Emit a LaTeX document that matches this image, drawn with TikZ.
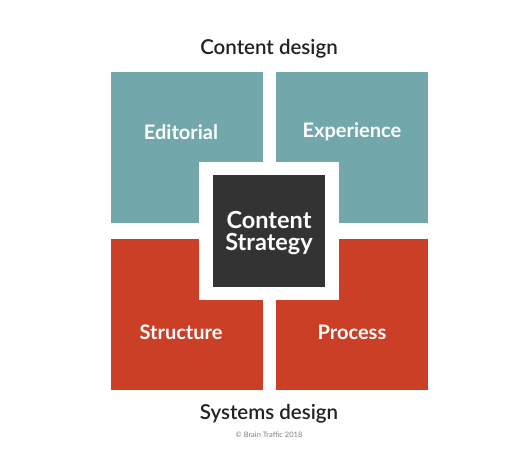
\documentclass[tikz,border=0pt]{standalone}
\usepackage{fontspec}
\setmainfont{Lato}
\newfontfamily\headfont{Lato Semibold}
\definecolor{tealbox}{HTML}{72A8AB}
\definecolor{redbox}{HTML}{CC3F27}
\definecolor{darkbox}{HTML}{333333}
\definecolor{headtext}{HTML}{222222}
\tikzset{
  quad/.style={minimum width=152pt, minimum height=151pt, inner sep=0pt},
  quadlabel/.style={text=white, font=\fontsize{20}{20}\selectfont\bfseries},
  heading/.style={text=headtext, font=\fontsize{20.5}{20.5}\selectfont\headfont},
}
\begin{document}
\begin{tikzpicture}[x=1pt, y=-1pt]
      \useasboundingbox[fill=white] (0,0) rectangle (512,450);
      \draw
        (186.5,147.5) node[quad, fill=tealbox] (editorial){}
        (352,147.5) node[quad, fill=tealbox] (experience){}
        (186.5,314.5) node[quad, fill=redbox] (structure){}
        (352,314.5) node[quad, fill=redbox] (process){};
      \begin{scope}[inner sep=0pt]
        \node[fill=white, minimum width=140pt, minimum height=138pt] (frame) at (269,231){};
        \node[fill=darkbox, minimum size=112pt] (strategy) at (269,231){};
      \end{scope}
      \node[quadlabel] (editoriallabel) at (181,132){Editorial};
      \node[quadlabel] (experiencelabel) at (352,132){Experience};
      \node[quadlabel] (structurelabel) at (181,332){Structure};
      \node[quadlabel] (processlabel) at (352,332){Process};
      \node[text=white, align=center, font=\fontsize{23.5}{22.5}\selectfont\bfseries] (strategylabel) at (269,233){Content\\Strategy};
      \node[heading] (contentdesign) at (269,49){Content design};
      \node[heading] (systemsdesign) at (269,414){Systems design};
      \node[text=gray, font=\fontsize{7.5}{7.5}\selectfont] (copyright) at (269,435){\textcopyright{} Brain Traffic 2018};
    \end{tikzpicture}
\end{document}
